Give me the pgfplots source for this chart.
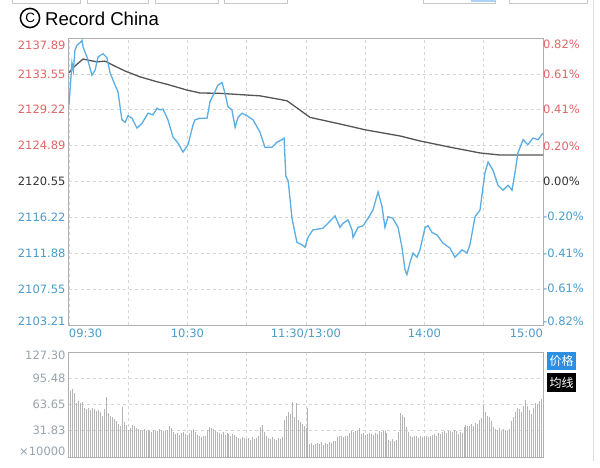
\documentclass[border=0pt]{standalone}
\usepackage{pgfplots}
\pgfplotsset{compat=1.18}
\usepackage{fontspec}
\setmainfont{DejaVu Sans}
\newfontfamily\arialf{Liberation Sans}
\newfontfamily\cjk{Noto Sans CJK SC}
\definecolor{upred}{HTML}{E06666}
\definecolor{dnblue}{HTML}{4A9CCB}
\definecolor{darktxt}{HTML}{333333}
\definecolor{priceblue}{HTML}{5AAEE3}
\definecolor{avggray}{HTML}{555555}
\definecolor{gridc}{HTML}{D6D6D6}
\definecolor{framec}{HTML}{B0B0B0}
\definecolor{volc}{HTML}{B4B4B4}
\definecolor{lbl}{HTML}{98A3AB}
\definecolor{btnblue}{HTML}{2B8FE3}
\newcommand{\tf}{\fontsize{11.5}{13}\selectfont}
\begin{document}
\begin{tikzpicture}
\begin{scope}[x=1pt,y=1pt]
\path[use as bounding box, fill=white] (0,0) rectangle (600,467);
% cut-off tabs at the top
\foreach \a/\b in {12/80,87/148,155/218,224/287,423/495,509/587}{
  \draw[framec!70] (\a,472) -- (\a,464) -- (\b,464) -- (\b,472);
}
\fill[btnblue!40] (471,464.5) rectangle (494.5,472);
\draw[gray!25] (593,467) -- (593,6);
% title
\draw[line width=1.5pt] (30,449) circle (9.6);
\node[font=\arialf\fontsize{13.5}{15}\selectfont] at (30.2,449) {C};
\node[anchor=west, font=\arialf\fontsize{18.6}{21}\selectfont, inner sep=0pt] at (45,448.5) {Record China};
\end{scope}

% ---------- price panel ----------
\begin{axis}[at={(69pt,142pt)}, anchor=south west, scale only axis,
  width=474pt, height=287pt,
  xmin=0, xmax=240, ymin=2103.21, ymax=2137.89,
  xtick={0,30,...,240},
  xticklabels={{\makebox[0pt][l]{09:30}},{},{10:30},{},{11:30/13:00},{},{14:00},{},{\makebox[0pt][r]{15:00}}},
  ytick={2103.21,2107.55,2111.88,2116.22,2120.55,2124.89,2129.22,2133.55,2137.89},
  yticklabels={{},{\textcolor{dnblue}{2107.55}},{\textcolor{dnblue}{2111.88}},{\textcolor{dnblue}{2116.22}},{\textcolor{darktxt}{2120.55}},{\textcolor{upred}{2124.89}},{\textcolor{upred}{2129.22}},{\textcolor{upred}{2133.55}},{}},
  grid=major,
  major grid style={gridc, dash pattern=on 3pt off 3pt, line width=0.8pt},
  axis line style={framec, line width=1pt},
  major tick length=0pt, tick style={draw=none},
  tick label style={font=\tf},
  xticklabel style={text=dnblue},
  clip=true,
]
\addplot[avggray, line width=1.3pt] coordinates {
(0,2133.7) (3,2134.5) (7.1,2135.35) (10,2135.2) (14.2,2135.0) (18.2,2135.1)
(22.3,2134.6) (28.4,2133.9) (35.9,2133.2) (44.6,2132.6) (49.6,2132.3)
(59.7,2131.6) (66.3,2131.25) (76.5,2131.2) (96.7,2130.9) (106,2130.5)
(110.4,2130.3) (115.4,2129.45) (122,2128.3) (137.2,2127.5) (149.9,2126.8)
(167.6,2126.05) (177.7,2125.45) (192.9,2124.7) (208.1,2124.0) (218.2,2123.75)
(240,2123.75)};
\addplot[priceblue, line width=1.3pt] coordinates {
(0,2129.8) (0.8,2132.5) (1.5,2134.9) (2.2,2133.9) (3,2136.4) (4,2137.0)
(5.5,2137.3) (6.6,2137.6) (7.1,2136.8) (9.1,2135.6) (11.6,2133.4) (13.2,2134.0)
(14.7,2135.6) (17.2,2136.0) (19.2,2135.5) (20.8,2133.7) (23.3,2132.2)
(24.8,2131.4) (26.8,2128.0) (28.4,2127.7) (29.9,2128.5) (31.9,2128.2)
(34.4,2127.0) (37.0,2127.6) (40.0,2128.8) (42.5,2128.6) (44.6,2129.4)
(46.1,2129.2) (47.6,2129.3) (50.1,2128.0) (52.7,2125.9) (55.2,2125.2)
(57.7,2124.1) (60.3,2125.0) (62.8,2127.4) (63.8,2128.0) (66.3,2128.2)
(69.9,2128.2) (71.4,2130.2) (73.9,2131.4) (75.4,2132.2) (77.5,2132.5)
(79.0,2131.2) (80.5,2129.6) (82.5,2129.2) (84.1,2127.1) (85.6,2128.3)
(87.6,2128.8) (90.1,2128.5) (93.2,2128.0) (96.7,2126.5) (99.2,2124.7)
(102.8,2124.7) (105.3,2125.3) (107.8,2125.6) (108.9,2125.8) (109.8,2121.2)
(111.0,2120.6) (112.9,2116.1) (115.4,2113.2) (118.0,2112.9) (119.5,2112.6)
(121.0,2113.8) (123.5,2114.7) (126.1,2114.8) (128.6,2114.9) (131.1,2115.5)
(134.7,2116.4) (137.2,2115.0) (138.7,2115.5) (141.3,2115.9) (143.3,2114.7)
(143.8,2113.8) (146.3,2115.0) (148.9,2115.2) (151.4,2116.1) (153.9,2117.1)
(156.5,2119.3) (158.5,2117.5) (160.0,2115.0) (161.5,2116.3) (164.0,2116.1)
(166.6,2115.0) (168.6,2112.6) (170.1,2109.9) (171.1,2109.3) (172.7,2110.8)
(174.2,2111.9) (176.2,2111.4) (177.7,2112.3) (180.3,2115.0) (181.8,2115.2)
(183.8,2114.4) (186.3,2114.1) (189.4,2113.1) (192.9,2112.5) (195.4,2111.4)
(199.0,2112.3) (201.5,2111.9) (203.0,2112.9) (205.6,2116.3) (208.1,2117.1)
(210.6,2121.6) (212.2,2122.9) (214.7,2121.9) (217.2,2120.1) (219.7,2119.5)
(222.3,2120.1) (224.3,2119.5) (225.8,2121.6) (227.3,2124.0) (229.9,2125.6)
(232.4,2125.0) (234.9,2125.8) (237.5,2125.6) (240,2126.4)};
\end{axis}

% right percentage labels
\begin{axis}[at={(69pt,142pt)}, anchor=south west, scale only axis,
  width=474pt, height=287pt,
  xmin=0, xmax=240, ymin=-0.82, ymax=0.82,
  axis x line=none, axis y line*=right,
  y axis line style={draw=none},
  major tick length=0pt, tick style={draw=none},
  ytick={-0.61,-0.41,-0.20,0,0.20,0.41,0.61},
  yticklabels={{\textcolor{dnblue}{-0.61\%}},{\textcolor{dnblue}{-0.41\%}},{\textcolor{dnblue}{-0.20\%}},{\textcolor{darktxt}{0.00\%}},{\textcolor{upred}{0.20\%}},{\textcolor{upred}{0.41\%}},{\textcolor{upred}{0.61\%}}},
  tick label style={font=\tf},
  yticklabel style={xshift=-3.3pt},
]
\end{axis}

% ---------- volume panel ----------
\begin{axis}[at={(69pt,10pt)}, anchor=south west, scale only axis,
  width=474pt, height=105pt,
  xmin=0, xmax=240, ymin=0, ymax=127.3,
  xtick={30,60,...,210}, xticklabels={},
  ytick={31.83,63.65,95.48},
  yticklabels={31.83,63.65,95.48},
  grid=major,
  major grid style={gridc, dash pattern=on 3pt off 3pt, line width=0.8pt},
  axis line style={framec, line width=1pt},
  major tick length=0pt, tick style={draw=none},
  tick label style={font=\tf, text=lbl},
  clip=true,
]
\addplot[ycomb, volc, line width=1pt, mark=none] table[row sep=\\, header=false, x expr=\coordindex, y index=0] {
127.3\\80\\82\\78\\66\\68\\65\\67\\60\\58\\
59\\57\\60\\58\\56\\57\\55\\50\\58\\73\\
53\\50\\49\\46\\44\\40\\38\\61\\42\\39\\
33\\35\\39\\37\\35\\34\\33\\32\\34\\31\\
33\\32\\30\\33\\31\\32\\34\\33\\31\\32\\
33\\38\\35\\30\\28\\29\\27\\29\\30\\28\\
27\\29\\31\\34\\30\\27\\25\\24\\26\\25\\
33\\36\\35\\34\\31\\30\\29\\28\\30\\27\\
29\\28\\26\\28\\27\\24\\23\\22\\24\\23\\
22\\23\\21\\24\\22\\23\\25\\36\\39\\30\\
25\\23\\22\\24\\22\\21\\23\\22\\24\\45\\
50\\55\\52\\67\\48\\65\\45\\42\\40\\38\\
35\\59\\16\\17\\15\\16\\17\\16\\18\\15\\
17\\16\\18\\17\\19\\20\\24\\25\\26\\24\\
26\\25\\29\\31\\30\\32\\31\\35\\28\\29\\
27\\28\\29\\28\\27\\29\\28\\31\\30\\32\\
31\\29\\21\\20\\22\\19\\21\\30\\53\\51\\
48\\36\\30\\25\\24\\26\\25\\23\\25\\24\\
26\\25\\24\\26\\27\\28\\26\\29\\28\\30\\
31\\29\\32\\31\\30\\33\\31\\28\\30\\29\\
36\\39\\38\\37\\40\\38\\41\\40\\45\\47\\
63\\55\\50\\48\\44\\36\\34\\33\\35\\32\\
34\\33\\32\\34\\44\\48\\55\\60\\58\\54\\
62\\69\\62\\57\\52\\60\\66\\64\\68\\70\\
81\\
};
\end{axis}

\begin{scope}[x=1pt,y=1pt]
% extreme labels
\node[anchor=east, text=upred, font=\tf] at (69,422) {2137.89};
\node[anchor=east, text=dnblue, font=\tf] at (69,146) {2103.21};
\node[anchor=west, text=upred, font=\tf, xshift=-3.3pt] at (543,423) {0.82\%};
\node[anchor=west, text=dnblue, font=\tf, xshift=-3.3pt] at (543,146) {-0.82\%};
\node[anchor=east, text=lbl, font=\tf] at (69,112) {127.30};
\node[anchor=east, text=lbl, font=\tf] at (69,16) {×10000};
% buttons
\fill[btnblue] (547,97) rectangle (576,115);
\node[text=white, font=\cjk\fontsize{12}{14}\selectfont] at (561.5,106) {价格};
\fill[black] (547,75) rectangle (576,94);
\node[text=white, font=\cjk\fontsize{12}{14}\selectfont] at (561.5,84.5) {均线};
\end{scope}
\end{tikzpicture}
\end{document}
